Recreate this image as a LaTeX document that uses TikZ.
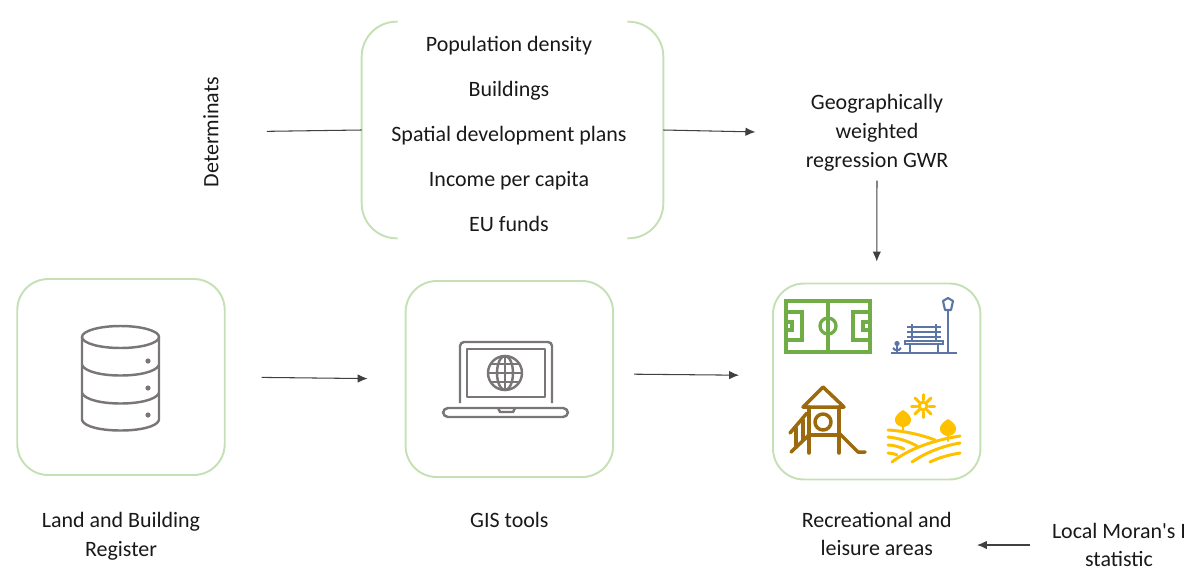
\documentclass[tikz,border=0pt]{standalone}
\usepackage{fontspec}
\setmainfont{Carlito}[Ligatures=TeXOff]
\usepackage{xcolor}
\usetikzlibrary{arrows.meta,positioning,calc}
\definecolor{boxgreen}{HTML}{C5E0B4}
\definecolor{icongrey}{HTML}{7A7576}
\definecolor{fieldgreen}{HTML}{70AD47}
\definecolor{benchblue}{HTML}{5B75A5}
\definecolor{playbrown}{HTML}{9C6A0C}
\definecolor{farmyellow}{HTML}{FFC000}
\definecolor{arrowgrey}{HTML}{404040}

\begin{document}
\begin{tikzpicture}[x=0.02cm,y=-0.02cm,>={Latex[length=0.2cm,width=0.17cm]},font=\fontsize{12.5}{16.4}\selectfont,text=black!90]
\tikzstyle{iconbox}=[draw=boxgreen,line width=1.1pt,rounded corners=0.62cm,minimum width=4.15cm,minimum height=3.92cm]
\tikzstyle{caption}=[align=center,inner sep=0pt]
\tikzstyle{link}=[draw=arrowgrey,line width=0.6pt]
\tikzstyle{greyicon}=[draw=icongrey,line width=1.4pt,line join=round]
\useasboundingbox (0,0) rectangle (1199,585);

% boxes along the bottom row
\node[iconbox] (land) at (121,377) {};
\node[iconbox,right=3.58cm of land,yshift=-0.04cm] (gis) {};
\node[iconbox,right=3.16cm of gis,yshift=-0.05cm] (rec) {};
\node[caption,below=0.72cm of land] (landlab) {Land and Building\\Register};
\node[caption,below=0.68cm of gis] (gislab) {GIS tools};
\node[caption,below=0.62cm of rec] (reclab) {Recreational and\\leisure areas};
\node[caption] (moran) at (1119,545) {Local Moran's I\\statistic};

% determinants on top
\node[minimum width=6.02cm,minimum height=4.32cm,inner sep=0pt] (factors) at (512.5,130) {};
\node[caption,xshift=-0.07cm,yshift=-0.08cm] (factorlist) at (factors.center) {Population density\\[0.325cm]Buildings\\[0.325cm]Spatial development plans\\[0.325cm]Income per capita\\[0.325cm]EU funds};
\node[caption,rotate=90] (determ) at (211,132) {Determinats};
\node[caption] (gwr) at (877,133) {Geographically\\weighted\\regression GWR};
\draw[draw=boxgreen,line width=1.1pt,rounded corners=0.7cm] ([xshift=0.72cm]factors.north west)--(factors.north west)--(factors.south west)--([xshift=0.72cm]factors.south west);
\draw[draw=boxgreen,line width=1.1pt,rounded corners=0.7cm] ([xshift=-0.72cm]factors.north east)--(factors.north east)--(factors.south east)--([xshift=-0.72cm]factors.south east);

% connectors
\draw[link,shorten <=0.96cm] (determ.south)--(factors.west);
\draw[link,->,shorten >=1cm] (factors.east)--(gwr.west);
\draw[link,->,shorten <=0.18cm,shorten >=0.42cm] (gwr.south)--(rec.north);
\draw[link,->,shorten <=0.72cm,shorten >=0.74cm] (land.east)--(gis.west);
\draw[link,->,shorten <=0.4cm,shorten >=0.66cm] ([yshift=0.1cm]gis.east)--([yshift=0.12cm]rec.west);
\draw[link,->,shorten <=0.44cm,shorten >=0.5cm] (moran.west)--(moran.west-|reclab.east);

% database
\draw[greyicon] (120.5,337) ellipse [x radius=38.5,y radius=11];
\draw[greyicon] (82,337)--(82,420) .. controls (86,434) and (155,434) .. (159,420)--(159,337);
\draw[greyicon] (82,365) .. controls (88,379) and (153,379) .. (159,365);
\draw[greyicon] (82,393) .. controls (88,407) and (153,407) .. (159,393);
\foreach \doty in {361,388,415}
  \fill[icongrey] (148,\doty) circle (2.6);

% laptop with globe
\draw[greyicon,rounded corners=0.08cm] (460,403)--(460,342)--(552,342)--(552,403);
\draw[greyicon] (467,349) rectangle (545,397);
\draw[greyicon] (505,373) circle (17);
\draw[greyicon] (505,373) ellipse [x radius=8,y radius=17];
\draw[greyicon] (505,356)--(505,390) (488,373)--(522,373) (491,364)--(519,364) (491,382)--(519,382);
\draw[greyicon,rounded corners=0.1cm] (443,408)--(443,417)--(568,417)--(568,408)--cycle;
\draw[greyicon] (498,408)--(500,412)--(513,412)--(515,408);

% football pitch
\begin{scope}[draw=fieldgreen,line width=1.9pt]
\draw (786,301) rectangle (870,352);
\draw (828,301)--(828,352);
\draw (828,326) circle (8);
\draw (786,312)--(802,312)--(802,340)--(786,340);
\draw (786,322)--(792,322)--(792,330)--(786,330);
\draw (870,312)--(853,312)--(853,340)--(870,340);
\draw (870,322)--(863,322)--(863,330)--(870,330);
\end{scope}

% bench and lamp
\begin{scope}[draw=benchblue,line width=1.2pt]
\draw (891,353)--(957,353);
\draw (948,310)--(948,353);
\draw[line join=round] (945,310)--(943,301)--(948,298)--(953,301)--(951,310)--cycle;
\draw (905,341) rectangle (943,344);
\draw (907,327)--(941,327) (907,332)--(941,332) (907,337)--(941,337);
\draw (912,324)--(912,341) (936,324)--(936,341);
\draw (910,344)--(910,353) (938,344)--(938,353);
\draw (897,346)--(897,353);
\fill[benchblue] (897,343.5) circle (2.6);
\draw (893,348) .. controls (894,350) and (896,350) .. (897,350) .. controls (898,350) and (900,350) .. (901,348);
\end{scope}

% playground
\begin{scope}[draw=playbrown,line width=2pt,line cap=round,line join=round]
\draw (803,407)--(823,387)--(844,407)--cycle;
\draw (809,407)--(809,453) (839,407)--(839,453);
\draw (809,435)--(839,435);
\draw (823,422) circle (8);
\draw (807,413)--(790,433) (809,435)--(791,452);
\draw (796,428)--(796,446) (803,420)--(803,440);
\draw (839,433)--(858,452)--(865,452);
\end{scope}

% fields, trees and sun
\begin{scope}[draw=farmyellow,line width=1.7pt,line cap=round]
\draw (923,406) circle (4);
\foreach \rayangle in {0,45,...,315}
  \draw (\rayangle:6)++(923,406) -- ++(\rayangle:5.5);
\foreach \treex/\treey in {903/410,948/419} {
  \fill[farmyellow] (\treex,\treey) .. controls (\treex+5,\treey+3) and (\treex+9,\treey+7) .. (\treex+8,\treey+11)
    .. controls (\treex+7,\treey+15) and (\treex+3,\treey+17) .. (\treex,\treey+17)
    .. controls (\treex-3,\treey+17) and (\treex-7,\treey+15) .. (\treex-8,\treey+11)
    .. controls (\treex-9,\treey+7) and (\treex-5,\treey+3) .. (\treex,\treey);
  \draw[line width=0.9pt] (\treex,\treey+6)--(\treex,\treey+22);
}
\draw (888,430) .. controls (905,431) and (922,435) .. (935,440);
\draw (888,437) .. controls (898,438) and (908,441) .. (917,446);
\draw (888,445) .. controls (893,445) and (900,447) .. (904,449);
\draw (888,453) .. controls (891,453) and (895,454) .. (897,455);
\draw (892,462) .. controls (910,448) and (935,440) .. (960,436);
\draw (912,462) .. controls (925,453) and (942,446) .. (960,443);
\draw (930,462) .. controls (938,458) and (948,455) .. (960,453);
\end{scope}
\end{tikzpicture}
\end{document}
